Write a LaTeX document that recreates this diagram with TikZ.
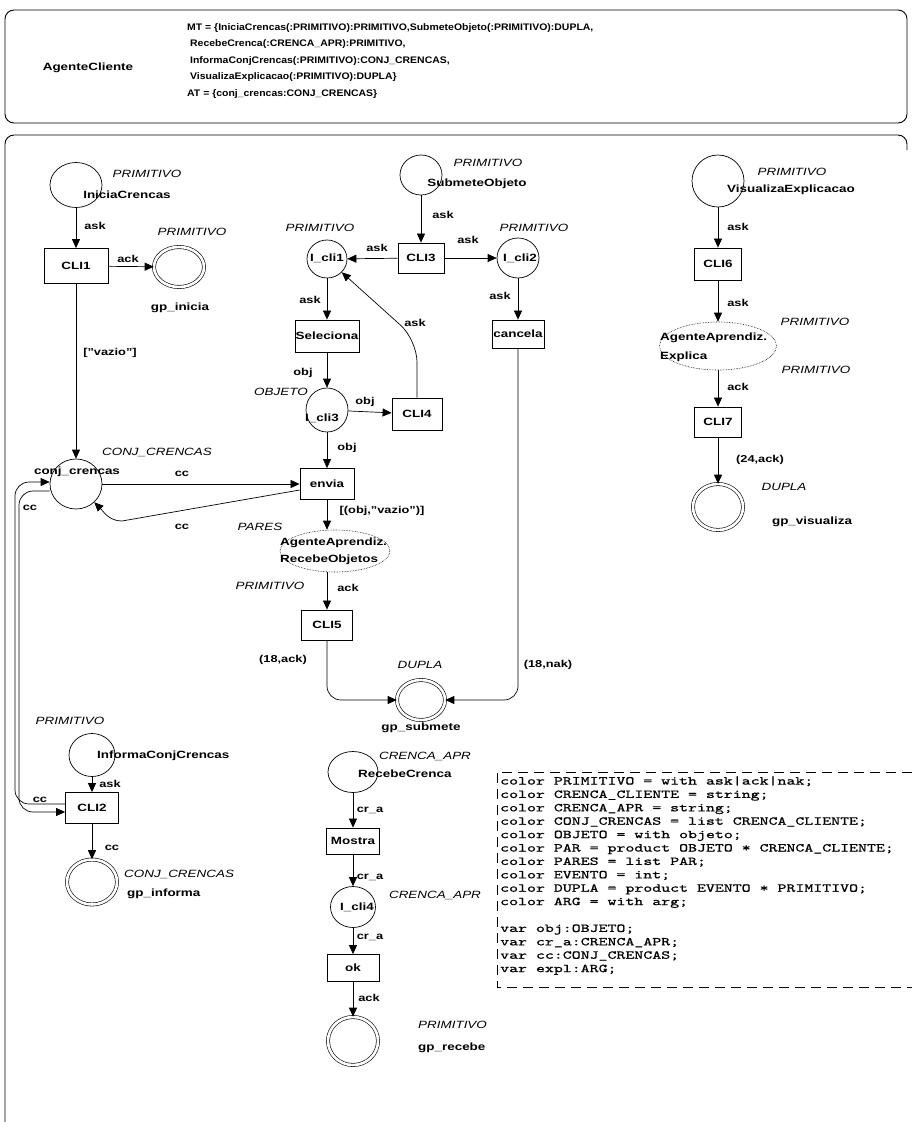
\documentclass[tikz,border=0pt]{standalone}
\usepackage{fontspec}
\setmainfont{Liberation Sans}[FakeStretch=1.28]
\newfontfamily\hdrfont{Liberation Sans}[FakeStretch=1.1]
\newfontfamily\declfont{lmmono10-regular.otf}[FakeStretch=1.42,FakeBold=0.8]
\usetikzlibrary{shapes.geometric,arrows.meta}

\begin{document}
\begin{tikzpicture}[x=1pt,y=-1pt,
  every node/.style={inner sep=0pt},
  place/.style={draw,ellipse,line width=0.7pt},
  port/.style={draw,ellipse,double,double distance=2.6pt,line width=0.6pt},
  trans/.style={draw,rectangle,line width=0.8pt,font=\bfseries\fontsize{10.5}{12}\selectfont},
  subst/.style={draw,ellipse,densely dotted,line width=0.6pt},
  nm/.style={font=\bfseries\fontsize{10.5}{12}\selectfont},
  ty/.style={font=\itshape\fontsize{10.5}{12}\selectfont},
  al/.style={font=\bfseries\fontsize{10}{12}\selectfont},
  arc/.style={line width=0.7pt,-{Triangle[length=9pt,width=8pt]}},
  frame/.style={line width=0.9pt,rounded corners=9pt},
]
\useasboundingbox (0,0) rectangle (912,1122);

% ---------- module header ----------
\draw[frame] (5,10) rectangle (907,123);
\node[nm] (agent) at (88,68) {AgenteCliente};
\node[anchor=north west,align=left,font=\hdrfont\bfseries\fontsize{9.5}{16.5}\selectfont] (mt) at (187,23)
 {MT = \{IniciaCrencas(:PRIMITIVO):PRIMITIVO,SubmeteObjeto(:PRIMITIVO):DUPLA,\\
  \hspace{3pt}RecebeCrenca(:CRENCA\_APR):PRIMITIVO,\\
  \hspace{3pt}InformaConjCrencas(:PRIMITIVO):CONJ\_CRENCAS,\\
  \hspace{3pt}VisualizaExplicacao(:PRIMITIVO):DUPLA\}\\
  AT = \{conj\_crencas:CONJ\_CRENCAS\}};

% ---------- net frame ----------
\draw[frame] (5,1122) -- (5,135) -- (907,135) -- (907,150);

% ---------- IniciaCrencas ----------
\node[place,minimum width=52,minimum height=45] (ini) at (76,185) {};
\node[ty] (iniT) at (147,174) {PRIMITIVO};
\node[nm] (iniN) at (127,195) {IniciaCrencas};
\node[trans,minimum width=64,minimum height=35] (cli1) at (76,266) {CLI1};
\node[port,minimum width=50,minimum height=40] (gpi) at (179,267) {};
\node[ty] (gpiT) at (192,232) {PRIMITIVO};
\node[nm] (gpiN) at (180,308) {gp\_inicia};
\draw[arc] (ini) -- (cli1);
\node[al] (l1) at (95,226) {ask};
\draw[arc] (cli1) -- (gpi);
\node[al] (l2) at (128,259) {ack};

% ---------- conj_crencas ----------
\node[place,minimum width=52,minimum height=50] (conj) at (76,484) {};
\node[ty] (conjT) at (157,452) {CONJ\_CRENCAS};
\node[nm] (conjN) at (77,472) {conj\_crencas};
\draw[arc] (cli1) -- (conj);
\node[al] (l3) at (110,353) {["vazio"]};

% ---------- SubmeteObjeto ----------
\node[place,minimum width=42,minimum height=40] (sub) at (421,175) {};
\node[ty] (subT) at (488,163) {PRIMITIVO};
\node[nm] (subN) at (477,184) {SubmeteObjeto};
\node[trans,minimum width=46,minimum height=30] (cli3) at (421,258) {CLI3};
\draw[arc] (sub) -- (cli3);
\node[al] (l4) at (443,215) {ask};

\node[place,minimum width=40,minimum height=38] (icli1) at (327,259) {};
\node[nm] (icli1N) at (327,258) {I\_cli1};
\node[ty] (icli1T) at (320,228) {PRIMITIVO};
\draw[arc] (cli3) -- (icli1);
\node[al] (l5) at (377,248) {ask};

\node[place,minimum width=42,minimum height=40] (icli2) at (518,258) {};
\node[nm] (icli2N) at (520,258) {I\_cli2};
\node[ty] (icli2T) at (534,228) {PRIMITIVO};
\draw[arc] (cli3) -- (icli2);
\node[al] (l6) at (468,240) {ask};

\node[trans,minimum width=52,minimum height=28] (canc) at (518,334) {cancela};
\draw[arc] (icli2) -- (canc);
\node[al] (l7) at (500,296) {ask};

\node[trans,minimum width=64,minimum height=32] (sel) at (327,336) {Seleciona};
\draw[arc] (icli1) -- (sel);
\node[al] (l8) at (310,300) {ask};

\node[place,minimum width=42,minimum height=44] (icli3) at (327,410) {};
\node[nm] (icli3N) at (322,418) {I\_cli3};
\node[ty] (icli3T) at (281,392) {OBJETO};
\draw[arc] (sel) -- (icli3);
\node[al] (l9) at (303,373) {obj};

\node[trans,minimum width=50,minimum height=32] (cli4) at (417,414) {CLI4};
\draw[arc] (icli3) -- (cli4);
\node[al] (l10) at (365,402) {obj};
\draw[arc,rounded corners=22pt] (cli4.north) -- (417,340) -- (icli1);
\node[al] (l11) at (415,323) {ask};

\node[trans,minimum width=54,minimum height=31] (envia) at (327,484) {envia};
\draw[arc] (icli3) -- (envia);
\node[al] (l12) at (347,448) {obj};

% conj_crencas <-> envia
\draw[arc] (conj) -- (envia);
\node[al] (l13) at (182,474) {cc};
\draw[arc] ([yshift=-6pt]envia.west) -- (122,521) to[out=180,in=-45] (conj.-45);
\node[al] (l14) at (182,527) {cc};

% ---------- AgenteAprendiz.RecebeObjetos ----------
\node[subst,minimum width=110,minimum height=42] (recobj) at (335,551) {};
\node[nm,anchor=west,align=left,font=\bfseries\fontsize{10.5}{17}\selectfont] (recobjN) at (280,551) {AgenteAprendiz.\\RecebeObjetos};
\draw[arc] (envia.south) -- (envia.south |- recobj.north);
\node[al] (l15) at (382,511) {[(obj,"vazio")]};
\node[ty] (recobjT) at (260,527) {PARES};
\node[ty] (recobjT2) at (270,586) {PRIMITIVO};

\node[trans,minimum width=51,minimum height=30] (cli5) at (327,625) {CLI5};
\draw[arc] (cli5 |- recobj.south) -- (cli5);
\node[al] (l16) at (348,588) {ack};

% ---------- gp_submete ----------
\node[port,minimum width=48,minimum height=40] (gpsub) at (421,700) {};
\node[ty] (gpsubT) at (420,665) {DUPLA};
\node[nm] (gpsubN) at (421,728) {gp\_submete};
\draw[arc,rounded corners=14pt] (cli5) |- (gpsub);
\node[al] (l17) at (283,660) {(18,ack)};
\draw[arc,rounded corners=14pt] (canc) |- (gpsub);
\node[al] (l18) at (548,665) {(18,nak)};

% ---------- InformaConjCrencas ----------
\node[place,minimum width=46,minimum height=43] (inf) at (92,755) {};
\node[ty] (infT) at (70,721) {PRIMITIVO};
\node[nm,anchor=west] (infN) at (97,756) {InformaConjCrencas};
\node[trans,minimum width=53,minimum height=31] (cli2) at (92,808) {CLI2};
\draw[arc] (inf) -- (cli2);
\node[al] (l19) at (110,784) {ask};
\node[port,minimum width=50,minimum height=45] (gpinf) at (92,882) {};
\node[ty,anchor=west] (gpinfT) at (124,874) {CONJ\_CRENCAS};
\node[nm,anchor=west] (gpinfN) at (127,894) {gp\_informa};
\draw[arc] (cli2) -- (gpinf);
\node[al] (l20) at (112,848) {cc};

% conj_crencas <-> CLI2 along the left edge
\draw[arc,rounded corners=14pt] ([yshift=-7pt]conj.west) -- (19,491) -- (19,812) -- ([yshift=-4pt]cli2.west);
\draw[arc,rounded corners=14pt] ([yshift=4pt]cli2.west) -- (15,804) -- (15,482) -- ([yshift=2pt]conj.west);
\node[al] (l21) at (30,508) {cc};
\node[al] (l22) at (40,800) {cc};

% ---------- RecebeCrenca ----------
\node[place,minimum width=50,minimum height=41] (reccr) at (353,772) {};
\node[ty] (reccrT) at (425,756) {CRENCA\_APR};
\node[nm,anchor=west] (reccrN) at (358,774) {RecebeCrenca};
\node[trans,minimum width=53,minimum height=26] (mostra) at (353,841) {Mostra};
\draw[arc] (reccr) -- (mostra);
\node[al] (l23) at (370,810) {cr\_a};
\node[place,minimum width=45,minimum height=41] (icli4) at (353,907) {};
\node[nm] (icli4N) at (357,907) {I\_cli4};
\node[ty] (icli4T) at (435,895) {CRENCA\_APR};
\draw[arc] (mostra) -- (icli4);
\node[al] (l24) at (370,877) {cr\_a};
\node[trans,minimum width=52,minimum height=27] (ok) at (353,968) {ok};
\draw[arc] (icli4) -- (ok);
\node[al] (l25) at (370,937) {cr\_a};
\node[port,minimum width=50,minimum height=48] (gprec) at (353,1041) {};
\node[ty,anchor=west] (gprecT) at (418,1025) {PRIMITIVO};
\node[nm,anchor=west] (gprecN) at (418,1048) {gp\_recebe};
\draw[arc] (ok) -- (gprec);
\node[al] (l26) at (369,998) {ack};

% ---------- VisualizaExplicacao ----------
\node[place,minimum width=52,minimum height=52] (vis) at (718,181) {};
\node[ty] (visT) at (792,172) {PRIMITIVO};
\node[nm,anchor=west] (visN) at (727,190) {VisualizaExplicacao};
\node[trans,minimum width=47,minimum height=32] (cli6) at (718,264) {CLI6};
\draw[arc] (vis) -- (cli6);
\node[al] (l27) at (738,227) {ask};
\node[subst,minimum width=117,minimum height=48] (apexp) at (718,346) {};
\node[nm,anchor=west,align=left,font=\bfseries\fontsize{10.5}{19}\selectfont] (apexpN) at (660,347) {AgenteAprendiz.\\Explica};
\draw[arc] (cli6) -- (apexp);
\node[al] (l28) at (738,303) {ask};
\node[ty] (apexpT) at (815,322) {PRIMITIVO};
\node[ty] (apexpT2) at (816,370) {PRIMITIVO};
\node[trans,minimum width=47,minimum height=30] (cli7) at (718,422) {CLI7};
\draw[arc] (apexp) -- (cli7);
\node[al] (l29) at (738,387) {ack};
\node[port,minimum width=50,minimum height=46] (gpvis) at (718,507) {};
\node[ty] (gpvisT) at (784,487) {DUPLA};
\node[nm] (gpvisN) at (812,522) {gp\_visualiza};
\draw[arc] (cli7) -- (gpvis);
\node[al] (l30) at (760,460) {(24,ack)};

% ---------- declarations ----------
\draw[dashed,dash pattern=on 10pt off 6pt,line width=0.8pt] (912,772) -- (497,772) -- (497,987) -- (912,987);
\node[anchor=north west,align=left,font=\declfont\fontsize{12}{13.4}\selectfont] (decl) at (500,776)
 {color PRIMITIVO = with ask|ack|nak;\\
  color CRENCA\_CLIENTE = string;\\
  color CRENCA\_APR = string;\\
  color CONJ\_CRENCAS = list CRENCA\_CLIENTE;\\
  color OBJETO = with objeto;\\
  color PAR = product OBJETO * CRENCA\_CLIENTE;\\
  color PARES = list PAR;\\
  color EVENTO = int;\\
  color DUPLA = product EVENTO * PRIMITIVO;\\
  color ARG = with arg;\\[13.4pt]
  var obj:OBJETO;\\
  var cr\_a:CRENCA\_APR;\\
  var cc:CONJ\_CRENCAS;\\
  var expl:ARG;};
\end{tikzpicture}
\end{document}
